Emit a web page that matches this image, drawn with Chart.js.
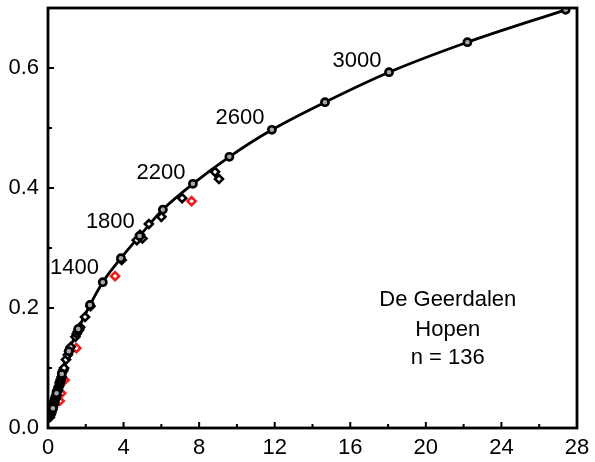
<!DOCTYPE html>
<html>
<head>
<meta charset="utf-8">
<script src="https://cdn.jsdelivr.net/npm/chart.js@4.4.1/dist/chart.umd.min.js"></script>
<style>
  html, body { margin: 0; padding: 0; background: #fff; }
  #wrap { width: 595px; height: 462px; position: relative; }
</style>
</head>
<body>
<div id="wrap"><canvas id="c" width="595" height="462"></canvas></div>
<script>
// ---- data ----
const curveX = [0.05, 0.26, 0.45, 0.73, 1.1, 1.6, 2.22, 2.9, 3.86, 4.85, 6.08, 7.67, 9.6, 11.85, 14.66, 18.05, 22.2, 27.4];
const curveY = [0.012, 0.033, 0.058, 0.09, 0.128, 0.165, 0.205, 0.243, 0.283, 0.32, 0.364, 0.407, 0.452, 0.497, 0.543, 0.593, 0.643, 0.697];

const blackX = [0.1, 0.14, 0.18, 0.22, 0.25, 0.28, 0.31, 0.33, 0.35, 0.38, 0.4, 0.42, 0.45, 0.48, 0.5, 0.52, 0.56, 0.6, 0.62, 0.65, 0.68, 0.72, 0.78, 0.82, 0.85, 0.95, 1.05, 1.12, 1.2, 1.45, 1.52, 1.58, 1.65, 1.7, 1.96, 2.25, 3.9, 4.7, 4.87, 5.0, 5.34, 6.0, 7.1, 8.84, 9.05];
const blackY = [0.018, 0.022, 0.026, 0.03, 0.034, 0.038, 0.04, 0.043, 0.046, 0.048, 0.05, 0.053, 0.055, 0.06, 0.062, 0.064, 0.068, 0.071, 0.075, 0.078, 0.081, 0.085, 0.094, 0.097, 0.1, 0.114, 0.122, 0.128, 0.135, 0.152, 0.157, 0.161, 0.164, 0.168, 0.185, 0.203, 0.28, 0.313, 0.322, 0.316, 0.34, 0.352, 0.383, 0.427, 0.415];

const redX = [0.62, 0.7, 0.88, 1.5, 3.55, 7.6];
const redY = [0.045, 0.058, 0.08, 0.133, 0.253, 0.378];

const depthLabels = ['1400', '1800', '2200', '2600', '3000'];
const depthLabelX = [1.4, 3.3, 5.98, 10.16, 16.35];
const depthLabelY = [0.266, 0.343, 0.425, 0.517, 0.612];

const noteLines = ['De Geerdalen', 'Hopen', 'n = 136'];
const noteX = 21.16;
const noteY = [0.213, 0.163, 0.117];

const xTickMajor = [0, 4, 8, 12, 16, 20, 24, 28];
const xTickMinor = [2, 6, 10, 14, 18, 22, 26];
const yTickMajor = [0, 0.2, 0.4, 0.6];
const yTickMinor = [0.1, 0.3, 0.5];

const zip = (xs, ys) => xs.map((x, i) => ({ x: x, y: ys[i] }));

const FONT = "'Liberation Sans', Arial, sans-serif";

const framePlugin = {
  id: 'frame',
  afterDatasetsDraw(chart) {
    const ctx = chart.ctx;
    const a = chart.chartArea;
    const xs = chart.scales.x, ys = chart.scales.y;
    ctx.save();
    ctx.strokeStyle = '#000';
    ctx.lineWidth = 2;
    ctx.lineCap = 'butt';
    ctx.beginPath();
    xTickMajor.forEach(v => { const p = xs.getPixelForValue(v); ctx.moveTo(p, a.bottom); ctx.lineTo(p, a.bottom - 6); });
    xTickMinor.forEach(v => { const p = xs.getPixelForValue(v); ctx.moveTo(p, a.bottom); ctx.lineTo(p, a.bottom - 4); });
    yTickMajor.forEach(v => { const p = ys.getPixelForValue(v); ctx.moveTo(a.left, p); ctx.lineTo(a.left + 6, p); });
    yTickMinor.forEach(v => { const p = ys.getPixelForValue(v); ctx.moveTo(a.left, p); ctx.lineTo(a.left + 4, p); });
    ctx.stroke();
    ctx.lineWidth = 2.8;
    ctx.strokeRect(a.left, a.top, a.right - a.left, a.bottom - a.top);

    ctx.fillStyle = '#000';
    ctx.font = '22px ' + FONT;
    ctx.textAlign = 'center';
    ctx.textBaseline = 'middle';
    depthLabels.forEach((t, i) => {
      ctx.fillText(t, xs.getPixelForValue(depthLabelX[i]), ys.getPixelForValue(depthLabelY[i]));
    });
    noteLines.forEach((t, i) => {
      ctx.fillText(t, xs.getPixelForValue(noteX), ys.getPixelForValue(noteY[i]));
    });
    ctx.restore();
  }
};

new Chart(document.getElementById('c'), {
  type: 'scatter',
  data: {
    datasets: [
      {
        type: 'line',
        data: zip(curveX, curveY),
        borderColor: '#000',
        borderWidth: 2.8,
        cubicInterpolationMode: 'monotone',
        fill: false,
        pointRadius: 0,
        order: 10
      },
      {
        data: zip(redX, redY),
        pointStyle: 'rectRot',
        pointRadius: 4,
        pointBorderWidth: 2.6,
        pointBackgroundColor: '#fff',
        pointBorderColor: '#ee1c1c',
        order: 8
      },
      {
        data: zip(blackX, blackY),
        pointStyle: 'rectRot',
        pointRadius: 4,
        pointBorderWidth: 2.6,
        pointBackgroundColor: '#fff',
        pointBorderColor: '#000',
        order: 6
      },
      {
        data: zip(curveX, curveY),
        pointStyle: 'circle',
        pointRadius: curveX.map((v, i) => i === 0 ? 0 : 3.6),
        pointBorderWidth: 2.6,
        pointBackgroundColor: '#a8a8a8',
        pointBorderColor: '#000',
        order: 4
      }
    ]
  },
  options: {
    responsive: false,
    animation: false,
    events: [],
    layout: { padding: { top: 8, right: 18, left: 0, bottom: 0 } },
    plugins: { legend: { display: false }, tooltip: { enabled: false } },
    scales: {
      x: {
        type: 'linear', min: 0, max: 28,
        grid: { display: false, drawTicks: false },
        border: { display: false },
        ticks: { stepSize: 4, padding: 7, color: '#000', font: { size: 22, family: FONT }, includeBounds: false, maxRotation: 0, autoSkip: false },
        afterFit(s) { s.height = 34; s.paddingLeft = 0; s.paddingRight = 0; }
      },
      y: {
        type: 'linear', min: 0, max: 0.7,
        grid: { display: false, drawTicks: false },
        border: { display: false },
        ticks: { stepSize: 0.2, padding: 9, color: '#000', font: { size: 22, family: FONT }, includeBounds: false, autoSkip: false,
          callback: v => Number(v).toFixed(1) },
        afterFit(s) { s.width = 48; s.paddingTop = 0; s.paddingBottom = 0; }
      }
    }
  },
  plugins: [framePlugin]
});
</script>
</body>
</html>
